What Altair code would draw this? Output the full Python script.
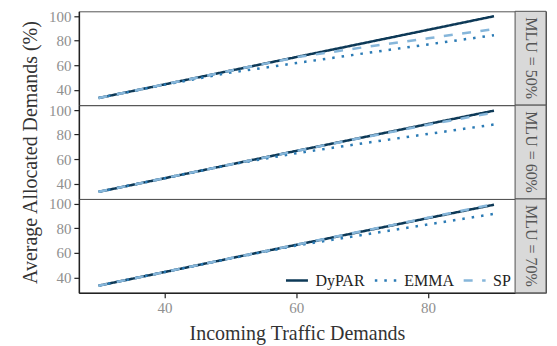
import altair as alt
import pandas as pd

FONT = "Liberation Serif"

demands = [30, 40, 50, 60, 70, 80, 90]
methods = ["DyPAR", "EMMA", "SP"]
mlu_labels = ["MLU = 50%", "MLU = 60%", "MLU = 70%"]

dypar_50 = [33.3, 44.4, 55.6, 66.7, 77.8, 88.9, 100.0]
emma_50 = [33.3, 44.2, 54.0, 61.8, 69.5, 77.0, 84.5]
sp_50 = [33.3, 44.4, 55.6, 66.5, 74.5, 82.0, 89.5]

dypar_60 = [33.3, 44.4, 55.6, 66.7, 77.6, 88.6, 99.5]
emma_60 = [33.3, 44.4, 55.5, 64.8, 72.8, 80.5, 88.2]
sp_60 = [33.3, 44.4, 55.6, 66.6, 77.4, 88.0, 98.0]

dypar_70 = [33.3, 44.4, 55.6, 66.6, 77.5, 88.4, 99.3]
emma_70 = [33.3, 44.4, 55.5, 66.0, 74.6, 83.2, 91.8]
sp_70 = [33.3, 44.4, 55.6, 66.7, 77.7, 88.7, 99.8]

series = {
    mlu_labels[0]: [dypar_50, emma_50, sp_50],
    mlu_labels[1]: [dypar_60, emma_60, sp_60],
    mlu_labels[2]: [dypar_70, emma_70, sp_70],
}

rows = []
for mlu, vals in series.items():
    for m, v in zip(methods, vals):
        for x, y in zip(demands, v):
            rows.append({"mlu": mlu, "method": m, "demand": x, "alloc": y})
df = pd.DataFrame(rows)

xscale = alt.Scale(domain=[27, 93.2], nice=False, zero=False)
yscale = alt.Scale(domain=[27.5, 104], nice=False, zero=False)
color_scale = alt.Scale(domain=methods, range=["#0d3957", "#2b7bb5", "#86b6da"])
dash_scale = alt.Scale(domain=methods, range=[[1, 0], [2.5, 7], [9, 9.5]])

W, H, SW = 437, 94, 31


def panel(i):
    d = df[df.mlu == mlu_labels[i]]
    bottom = i == 2
    if bottom:
        xax = alt.Axis(values=[40, 60, 80], title="Incoming Traffic Demands")
        leg = alt.Legend(
            orient="bottom-right", direction="horizontal", title=None,
            symbolType="stroke", symbolSize=484, symbolStrokeWidth=2.5,
            labelFont=FONT, labelFontSize=16, labelColor="#222",
            columnPadding=4, labelOffset=6, offset=4, padding=0,
        )
    else:
        xax = None
        leg = None
    yax = alt.Axis(
        values=[40, 60, 80, 100],
        title="Average Allocated Demands (%)" if i == 1 else None,
    )
    return alt.Chart(d).mark_line(strokeWidth=2.5, strokeCap="butt").encode(
        x=alt.X("demand:Q", scale=xscale, axis=xax),
        y=alt.Y("alloc:Q", scale=yscale, axis=yax),
        color=alt.Color("method:N", scale=color_scale, legend=leg),
        strokeDash=alt.StrokeDash("method:N", scale=dash_scale, legend=leg),
    ).properties(width=W, height=H)


def strip(i):
    sd = pd.DataFrame({"label": [mlu_labels[i]]})
    bg = alt.Chart(sd).mark_rect(fill="#d9d9d9", stroke="#555", strokeWidth=1).encode(
        x=alt.value(0), x2=alt.value(SW), y=alt.value(0), y2=alt.value(H)
    )
    txt = alt.Chart(sd).mark_text(
        angle=90, font=FONT, fontSize=16, color="#555", align="center", baseline="middle"
    ).encode(x=alt.value(SW / 2), y=alt.value(H / 2), text="label:N")
    return alt.layer(bg, txt).properties(width=SW, height=H)


cells = []
for i in range(3):
    cells.append(panel(i))
    cells.append(strip(i))

chart = alt.concat(*cells, columns=2, spacing=0, bounds="flush").resolve_legend(
    color="independent", strokeDash="independent"
).properties(
    padding={"left": 11, "top": 0, "right": 2, "bottom": 2}
).configure_view(
    stroke="#555", strokeWidth=1
).configure_axis(
    grid=False, domainColor="#222", domainWidth=1.5, tickColor="#222",
    tickSize=5, tickWidth=1.2, labelFont=FONT, labelFontSize=15,
    labelColor="#909090", labelPadding=3, titleFont=FONT, titleFontSize=20,
    titleFontWeight="normal", titleColor="#333", titlePadding=8,
).configure_concat(spacing=0)

chart.save("out.html", embed_options={"renderer": "svg", "actions": False})
